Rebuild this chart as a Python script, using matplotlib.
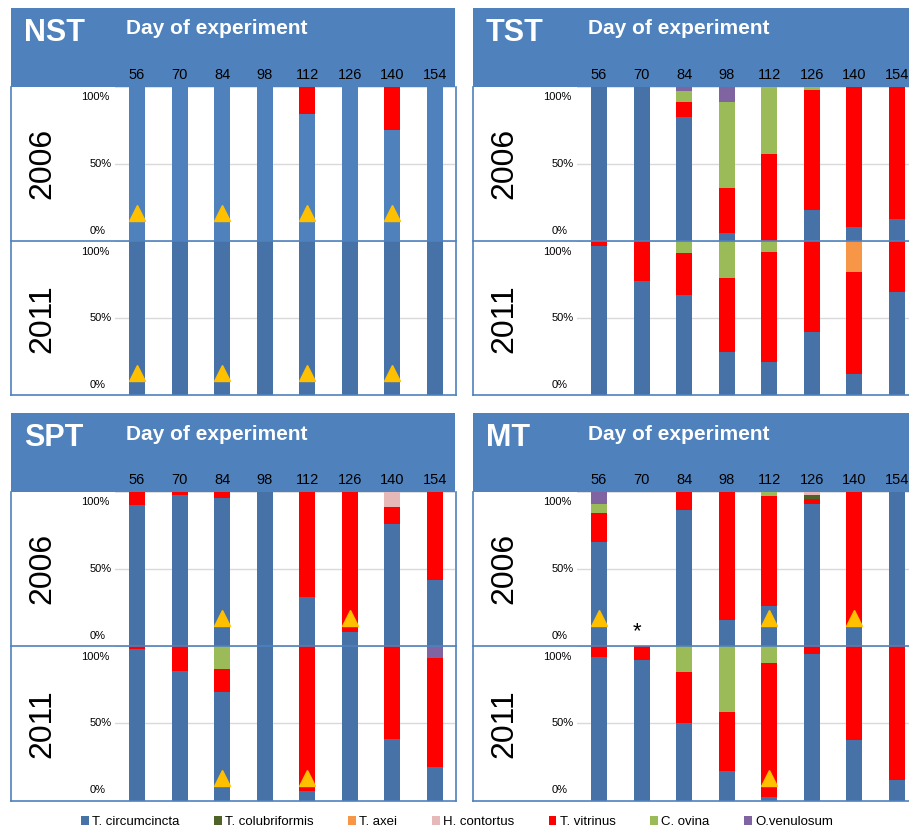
import matplotlib
matplotlib.use("Agg")
import matplotlib.pyplot as plt
import matplotlib.transforms as mtransforms
from matplotlib.lines import Line2D
from matplotlib.patches import Rectangle, Patch

plt.rcParams['font.family'] = ['Liberation Sans', 'DejaVu Sans']

# ---- data (% of larvae per species) ----
days = [56, 70, 84, 98, 112, 126, 140, 154]
years = ["2006", "2011"]

species = ["T. circumcincta", "T. colubriformis", "T. axei", "H. contortus",
           "T. vitrinus", "C. ovina", "O.venulosum"]
colors = ["#4672A8", "#4F6228", "#F79646", "#E6B9B8", "#FF0000", "#9BBB59", "#8064A2"]
# order in which the species are stacked, bottom to top
stack_order = ["T. circumcincta", "T. vitrinus", "T. colubriformis", "T. axei",
               "H. contortus", "C. ovina", "O.venulosum"]

nst_2006 = {"T. circumcincta": [100, 100, 100, 100, 82, 100, 72, 100],
            "T. vitrinus":     [0, 0, 0, 0, 18, 0, 28, 0]}
nst_2011 = {"T. circumcincta": [100, 100, 100, 100, 100, 100, 100, 100]}

tst_2006 = {"T. circumcincta": [100, 100, 80, 5, 0, 20, 9, 14],
            "T. vitrinus":     [0, 0, 10, 29, 56, 78, 91, 86],
            "C. ovina":        [0, 0, 7, 56, 44, 2, 0, 0],
            "O.venulosum":     [0, 0, 3, 10, 0, 0, 0, 0]}
tst_2011 = {"T. circumcincta": [97, 74, 65, 28, 22, 41, 14, 67],
            "T. vitrinus":     [3, 26, 27, 48, 71, 59, 66, 33],
            "T. axei":         [0, 0, 0, 0, 0, 0, 20, 0],
            "C. ovina":        [0, 0, 8, 24, 7, 0, 0, 0]}

spt_2006 = {"T. circumcincta": [91, 98, 96, 100, 32, 9, 79, 43],
            "T. vitrinus":     [9, 2, 4, 0, 68, 91, 11, 57],
            "H. contortus":    [0, 0, 0, 0, 0, 0, 10, 0]}
spt_2011 = {"T. circumcincta": [98, 84, 70, 100, 6, 100, 40, 22],
            "T. vitrinus":     [2, 16, 15, 0, 94, 0, 60, 70],
            "C. ovina":        [0, 0, 15, 0, 0, 0, 0, 0],
            "O.venulosum":     [0, 0, 0, 0, 0, 0, 0, 8]}

mt_2006 = {"T. circumcincta":  [67, 0, 88, 17, 26, 92, 12, 100],
           "T. vitrinus":      [19, 0, 12, 83, 71, 3, 88, 0],
           "T. colubriformis": [0, 0, 0, 0, 0, 2.5, 0, 0],
           "H. contortus":     [0, 0, 0, 0, 0, 2.5, 0, 0],
           "C. ovina":         [6, 0, 0, 0, 3, 0, 0, 0],
           "O.venulosum":      [8, 0, 0, 0, 0, 0, 0, 0]}
mt_2011 = {"T. circumcincta": [93, 91, 50, 19, 2, 95, 39, 13],
           "T. vitrinus":     [7, 9, 33, 38, 87, 5, 61, 87],
           "C. ovina":        [0, 0, 17, 43, 11, 0, 0, 0]}

# days marked with a yellow triangle
nst_tri = {"2006": [56, 84, 112, 140], "2011": [56, 84, 112, 140]}
tst_tri = {"2006": [], "2011": []}
spt_tri = {"2006": [84, 126], "2011": [84, 112]}
mt_tri = {"2006": [56, 112, 140], "2011": [112]}
# day with no sample (asterisk)
mt_missing = {"2006": [70], "2011": []}

panels = [
    ("NST", nst_2006, nst_2011, nst_tri, {}, 11, 8),
    ("TST", tst_2006, tst_2011, tst_tri, {}, 473, 8),
    ("SPT", spt_2006, spt_2011, spt_tri, {}, 11, 413),
    ("MT", mt_2006, mt_2011, mt_tri, mt_missing, 473, 413),
]

# ---- layout (pixels) ----
W, H = 909, 832
HEAD = 78.5
ROW = 154.5
PW = 444.5
BLUE = "#4F81BD"
GRID = "#D9D9D9"
step = 42.55


def fx(x):
    return x / W


def fy(y):
    return 1 - y / H


fig = plt.figure(figsize=(W / 100, H / 100), dpi=100)
col = dict(zip(species, colors))

for name, d06, d11, tri, missing, x0, y0 in panels:
    # header band (behind the axes so the day labels stay visible)
    fig.add_artist(Rectangle((fx(x0), fy(y0 + HEAD)), PW / W, HEAD / H,
                             transform=fig.transFigure, color=BLUE, lw=0, zorder=-1))
    fig.text(fx(x0 + 13), fy(y0 + 25), name, color="white", fontsize=22,
             fontweight="bold", ha="left", va="center")
    fig.text(fx(x0 + 115), fy(y0 + 21), "Day of experiment", color="white",
             fontsize=15, fontweight="bold", ha="left", va="center")

    for r, (year, data) in enumerate(zip(years, [d06, d11])):
        top = y0 + HEAD + r * ROW
        ax = fig.add_axes([fx(x0 + 104), fy(top + ROW), 340 / W, ROW / H])
        ax.set_xlim(-22 / step, -22 / step + 340 / step)
        ax.set_ylim(0, 100)
        ax.axis("off")
        ax.axhline(50, color=GRID, lw=1, zorder=0)
        ax.axhline(100, color=GRID, lw=1.2, zorder=0)

        xs = list(range(len(days)))
        bottom = [0] * len(days)
        for sp in stack_order:
            if sp not in data:
                continue
            vals = data[sp]
            c = col[sp]
            if name == "NST" and year == "2006" and sp == "T. circumcincta":
                c = BLUE
            ax.bar(xs, vals, bottom=bottom, width=0.376, color=c, lw=0, zorder=2)
            bottom = [b + v for b, v in zip(bottom, vals)]

        ty = 18 if year == "2006" else 14.5
        for d in tri[year]:
            ax.plot(days.index(d), ty, marker="^", color="#FFC000", ms=11,
                    clip_on=False, zorder=5, lw=0)
        for d in missing.get(year, []):
            ax.text(days.index(d) - 0.1, 9, "*", fontsize=16, ha="center",
                    va="center", zorder=5)

        # y labels
        bl = mtransforms.blended_transform_factory(ax.transAxes, ax.transData)
        ax.text(-6 / 340, 93, "100%", transform=bl, ha="right", va="center", fontsize=8)
        ax.text(-3 / 340, 50, "50%", transform=bl, ha="right", va="center", fontsize=8)
        ax.text(-9 / 340, 6.5, "0%", transform=bl, ha="right", va="center", fontsize=8)

        # row label
        fig.text(fx(x0 + 31), fy(top + ROW / 2), year, rotation=90, fontsize=23,
                 ha="center", va="center")

        if r == 0:
            hb = mtransforms.blended_transform_factory(ax.transData, fig.transFigure)
            for i, d in enumerate(days):
                ax.text(i, fy(y0 + 67), str(d), transform=hb, ha="center",
                        va="center", fontsize=10.5)

    # frame and row separator
    yb = y0 + HEAD + 2 * ROW
    ym = y0 + HEAD + ROW
    for xs_, ys_ in [([x0, x0], [y0 + HEAD, yb]), ([x0, x0 + PW], [yb, yb]),
                     ([x0 + PW, x0 + PW], [y0 + HEAD, yb]),
                     ([x0, x0 + PW], [ym, ym])]:
        fig.add_artist(Line2D([fx(v) for v in xs_], [fy(v) for v in ys_],
                              color=BLUE, lw=1.2, transform=fig.transFigure))

handles = [Patch(facecolor=c, edgecolor="none") for c in colors]
fig.legend(handles, species, loc="center", bbox_to_anchor=(fx(457), fy(822)),
           ncol=7, frameon=False, handlelength=0.6, handleheight=0.6,
           handletextpad=0.25, columnspacing=2.6,
           prop={"family": ["Liberation Sans Narrow", "Liberation Sans"], "size": 9.5})

fig.savefig("out.png", dpi=100)
